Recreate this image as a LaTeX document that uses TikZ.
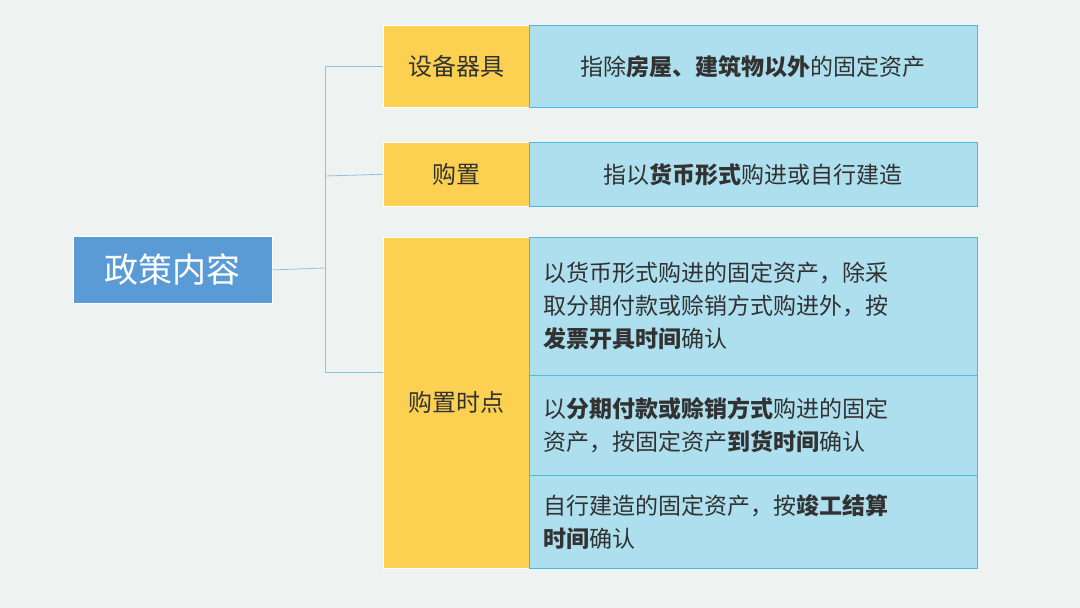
\documentclass[tikz,border=0pt]{standalone}
\usepackage{fontspec}
\setmainfont{Noto Sans CJK SC}
\usetikzlibrary{positioning}
\definecolor{bgcol}{RGB}{238, 243, 241}
\definecolor{titleblue}{RGB}{91, 155, 213}
\definecolor{catyellow}{RGB}{252, 208, 80}
\definecolor{descblue}{RGB}{173, 223, 238}
\definecolor{descline}{RGB}{80, 185, 215}
\definecolor{linkblue}{RGB}{140, 195, 225}
\definecolor{darktext}{RGB}{50, 50, 50}
\begin{document}
\begin{tikzpicture}[
    x=1pt, y=-1pt,
    title/.style={fill=titleblue, draw=white, line width=0.8pt, text=white,
                  font=\fontsize{34}{40}\selectfont, minimum width=199pt,
                  minimum height=67pt, anchor=north west, inner sep=0pt},
    catbox/.style={fill=catyellow, draw=white, line width=0.6pt, text=darktext,
                   font=\fontsize{24}{30}\selectfont, minimum width=146pt,
                   anchor=north west, inner sep=0pt},
    descbox/.style={fill=descblue, draw=descline, line width=0.6pt, text=darktext,
                    font=\fontsize{23}{33}\selectfont, minimum width=448pt,
                    anchor=north west, inner sep=0pt},
    multi/.style={descbox, align=left, text width=420pt, inner xsep=9pt},
    link/.style={draw=linkblue, line width=0.8pt},
  ]
    \fill[bgcol] (0,0) rectangle (1080,608);
    \useasboundingbox (0,0) rectangle (1080,608);

    % title
    \node[title] (policy) at (73,236) {政策内容};

    % categories
    \node[catbox, minimum height=82pt] (equip) at (383,25) {设备器具};
    \node[catbox, minimum height=64pt] (buy) at (383,142) {购置};
    \node[catbox, minimum height=331pt] (when) at (383,237) {购置时点};

    % descriptions
    \node[descbox, minimum height=82pt] (equipd) at (529,25)
      {指除\textbf{房屋、建筑物以外}的固定资产};
    \node[descbox, minimum height=64pt] (buyd) at (529,142)
      {指以\textbf{货币形式}购进或自行建造};
    \node[multi, minimum height=138pt] (whena) at (529,237)
      {以货币形式购进的固定资产，除采\\取分期付款或赊销方式购进外，按\\\textbf{发票开具时间}确认};
    \node[multi, minimum height=100pt] (whenb) at (529,375)
      {以\textbf{分期付款或赊销方式}购进的固定\\资产，按固定资产\textbf{到货时间}确认};
    \node[multi, minimum height=93pt] (whenc) at (529,475)
      {自行建造的固定资产，按\textbf{竣工结算}\\\textbf{时间}确认};

    % connectors
    \coordinate (hub) at (325,268);
    \draw[link] (policy.east) -- (hub);
    \draw[link] (equip.west) -| (hub);
    \draw[link] (buy.west) -- (325,176);
    \draw[link] (when.west |- 0,372) -| (hub);
\end{tikzpicture}
\end{document}
